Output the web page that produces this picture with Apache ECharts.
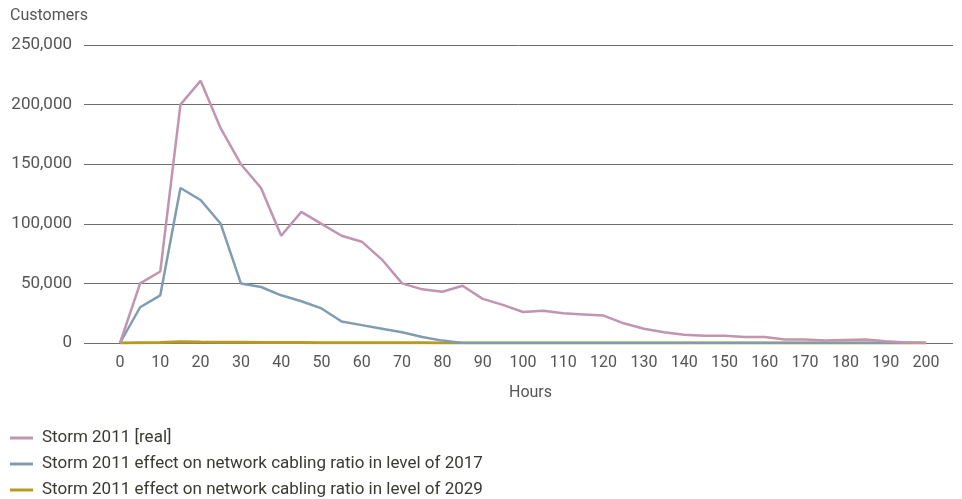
<!DOCTYPE html>
<html>
<head>
<meta charset="utf-8">
<title>Storm 2011 customers without power</title>
<script src="https://cdn.jsdelivr.net/npm/echarts@6/dist/echarts.min.js"></script>
<style>
  html, body { margin: 0; padding: 0; background: #ffffff; }
  #chart { width: 962px; height: 499px; }
</style>
</head>
<body>
<div id="chart"></div>
<script>
// Hours since storm onset (5-hour steps)
var hours = [0, 5, 10, 15, 20, 25, 30, 35, 40, 45, 50, 55, 60, 65, 70, 75, 80, 85, 90, 95,
             100, 105, 110, 115, 120, 125, 130, 135, 140, 145, 150, 155, 160, 165, 170, 175,
             180, 185, 190, 195, 200];

// Customers without power
var stormReal = [0, 50000, 60000, 200000, 220000, 180000, 150000, 130000, 90000, 110000,
                 100000, 90000, 85000, 70000, 50000, 45000, 43000, 48000, 37000, 32000,
                 26000, 27000, 25000, 24000, 23000, 16500, 12000, 9000, 7000, 6000,
                 6000, 5000, 5000, 3000, 3000, 2000, 2500, 3000, 1500, 500, 0];

var cabling2017 = [0, 30000, 40000, 130000, 120000, 100000, 50000, 47000, 40000, 35000,
                   29000, 18000, 15000, 12000, 9000, 5000, 2000, 0, 0, 0,
                   0, 0, 0, 0, 0, 0, 0, 0, 0, 0,
                   0, 0, 0, 0, 0, 0, 0, 0, 0, 0, 0];

var cabling2029 = [0, 300, 500, 1000, 800, 700, 600, 500, 400, 400,
                   300, 300, 300, 200, 200, 200, 100, 100, 0, 0,
                   0, 0, 0, 0, 0, 0, 0, 0, 0, 0,
                   0, 0, 0, 0, 0, 0, 0, 0, 0, 0, 0];

var hourTicks = [0, 10, 20, 30, 40, 50, 60, 70, 80, 90, 100, 110, 120, 130, 140, 150,
                 160, 170, 180, 190, 200];

var seriesNames = [
  'Storm 2011 [real]',
  'Storm 2011 effect on network cabling ratio in level of 2017',
  'Storm 2011 effect on network cabling ratio in level of 2029'
];
var seriesColors = ['#c294b0', '#7f9db1', '#b79a26'];
var seriesWidths = [2.5, 2.5, 3];

function pairs(values) {
  return hours.map(function (h, i) { return [h, values[i]]; });
}

var FONT = 'Roboto';
var chart = echarts.init(document.getElementById('chart'), null, { renderer: 'canvas' });

function lineSeries(idx, values, z) {
  return {
    name: seriesNames[idx],
    type: 'line',
    data: pairs(values),
    symbol: 'none',
    z: z,
    lineStyle: { color: seriesColors[idx], width: seriesWidths[idx] },
    itemStyle: { color: seriesColors[idx] },
    animation: false
  };
}

chart.setOption({
  animation: false,
  textStyle: { fontFamily: FONT },
  title: {
    text: 'Customers',
    left: 10,
    top: 8,
    padding: 0,
    textStyle: { fontFamily: FONT, fontSize: 16, fontWeight: 'normal', color: '#555555' }
  },
  grid: { left: 84, right: 9, top: 45, bottom: 156, containLabel: false },
  legend: {
    orient: 'vertical',
    left: 10,
    top: 428,
    height: 90,
    padding: 0,
    data: seriesNames,
    icon: 'rect',
    itemWidth: 23,
    itemHeight: 3,
    itemGap: 6,
    textStyle: { fontFamily: FONT, fontSize: 17, color: '#3a3a30', lineHeight: 20, padding: [0, 0, 0, 4] }
  },
  xAxis: {
    type: 'value',
    min: -8.93,
    max: 206.7,
    name: 'Hours',
    nameLocation: 'middle',
    nameGap: 42,
    nameTextStyle: { fontFamily: FONT, fontSize: 16, color: '#555555', padding: [0, 0, 0, 24] },
    axisLine: { show: false },
    axisTick: { show: false },
    splitLine: { show: false },
    axisLabel: {
      customValues: hourTicks,
      fontFamily: FONT,
      fontSize: 16,
      color: '#555555',
      margin: 12
    }
  },
  yAxis: {
    type: 'value',
    min: 0,
    max: 250000,
    interval: 50000,
    axisLine: { show: false },
    axisTick: { show: false },
    splitLine: { show: true, lineStyle: { color: '#6e6e6e', width: 1 } },
    axisLabel: {
      fontFamily: FONT,
      fontSize: 17,
      color: '#555555',
      margin: 12,
      formatter: function (v) { return v.toLocaleString('en-US'); }
    }
  },
  series: [
    lineSeries(2, cabling2029, 2),
    lineSeries(1, cabling2017, 3),
    lineSeries(0, stormReal, 4)
  ]
});
</script>
</body>
</html>
